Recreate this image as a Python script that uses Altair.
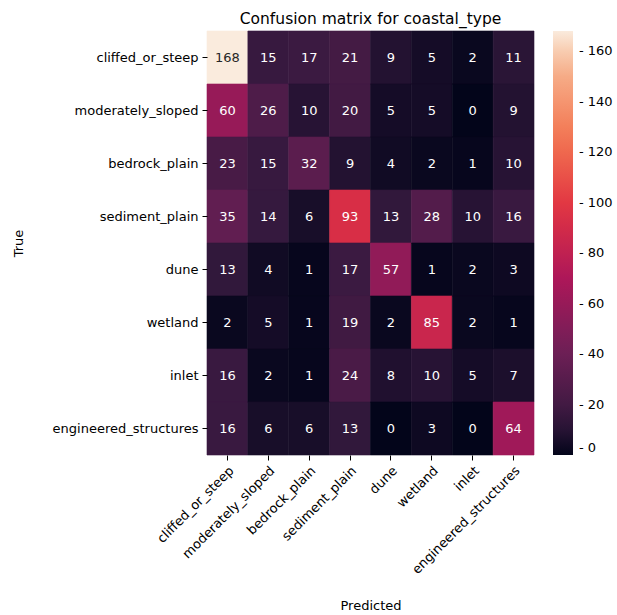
import altair as alt
import pandas as pd

# Class labels (rows = true class, columns = predicted class)
classes = [
    "cliffed_or_steep",
    "moderately_sloped",
    "bedrock_plain",
    "sediment_plain",
    "dune",
    "wetland",
    "inlet",
    "engineered_structures",
]

# Confusion-matrix counts, one list per true class
row_cliffed = [168, 15, 17, 21, 9, 5, 2, 11]
row_moderate = [60, 26, 10, 20, 5, 5, 0, 9]
row_bedrock = [23, 15, 32, 9, 4, 2, 1, 10]
row_sediment = [35, 14, 6, 93, 13, 28, 10, 16]
row_dune = [13, 4, 1, 17, 57, 1, 2, 3]
row_wetland = [2, 5, 1, 19, 2, 85, 2, 1]
row_inlet = [16, 2, 1, 24, 8, 10, 5, 7]
row_engineered = [16, 6, 6, 13, 0, 3, 0, 64]

rows = [row_cliffed, row_moderate, row_bedrock, row_sediment,
        row_dune, row_wetland, row_inlet, row_engineered]

records = []
for t, row in zip(classes, rows):
    for p, v in zip(classes, row):
        records.append({"True": t, "Predicted": p, "count": v})
df = pd.DataFrame(records)

vmax = max(max(r) for r in rows)

# "rocket" colormap stops
rocket_stops = [0.0, 1 / 12, 3 / 12, 5 / 12, 7 / 12, 9 / 12, 11 / 12, 1.0]
rocket_colors = ["#03051a", "#35193e", "#701f57", "#ad1759",
                 "#e13342", "#f37651", "#f6b48f", "#faebdd"]

FONT = "DejaVu Sans"
W, H = 327, 424

color_scale = alt.Scale(domain=[s * vmax for s in rocket_stops],
                        range=rocket_colors, interpolate="rgb")

base = alt.Chart(df).encode(
    x=alt.X("Predicted:N", sort=classes, title="Predicted",
            scale=alt.Scale(paddingInner=0, paddingOuter=0)),
    y=alt.Y("True:N", sort=classes, title="True",
            scale=alt.Scale(paddingInner=0, paddingOuter=0)),
)

cells = base.mark_rect(strokeWidth=0.6).encode(
    color=alt.Color(
        "count:Q",
        scale=color_scale,
        legend=alt.Legend(
            title=None,
            orient="none",
            legendX=W + 19,
            legendY=0,
            padding=0,
            gradientLength=H,
            gradientThickness=20,
            gradientStrokeWidth=0,
            values=[0, 20, 40, 60, 80, 100, 120, 140, 160],
            labelFontSize=13,
            labelFont=FONT,
            labelColor="black",
            labelBaseline="middle",
            labelOffset=6,
            labelExpr="'- ' + datum.label",
        ),
    ),
    stroke=alt.Stroke("count:Q", scale=color_scale, legend=None),
)

labels = base.mark_text(fontSize=13, font=FONT).encode(
    text="count:Q",
    color=alt.condition(alt.datum.count > 120, alt.value("#262626"), alt.value("#ffffff")),
)

chart = (
    alt.layer(cells, labels)
    .resolve_scale(color="independent")
    .properties(
        width=W,
        height=H,
        title=alt.TitleParams("Confusion matrix for coastal_type", fontSize=15.5,
                              font=FONT, fontWeight="normal", color="black",
                              anchor="middle", offset=3),
        autosize=alt.AutoSizeParams(type="none"),
        padding={"left": 207, "top": 31, "right": 83, "bottom": 160},
    )
    .configure_view(stroke=None)
    .configure_axis(
        domain=False,
        ticks=True,
        tickSize=5,
        tickColor="black",
        labelFont=FONT,
        labelFontSize=13,
        labelColor="black",
        titleFont=FONT,
        titleFontSize=13,
        titleFontWeight="normal",
        titleColor="black",
        labelPadding=4,
    )
    .configure_axisX(labelAngle=-45, labelAlign="right", labelBaseline="top", titlePadding=23)
    .configure_axisY(titlePadding=27)
)

chart.save("out.html", embed_options={"renderer": "svg", "actions": False})
